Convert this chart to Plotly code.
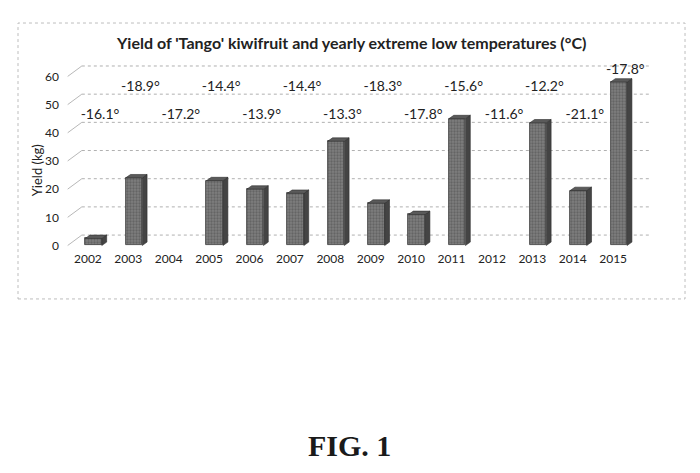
import plotly.graph_objects as go

# datos (None = sin cosecha)
years = ["2002", "2003", "2004", "2005", "2006", "2007", "2008",
         "2009", "2010", "2011", "2012", "2013", "2014", "2015"]
yield_kg = [2.5, 24, None, 23, 20, 18.5, 37, 15, 11, 45, None, 43.5, 19.5, 58]
low_temps = ["-16.1°", "-18.9°", "-17.2°", "-14.4°", "-13.9°", "-14.4°", "-13.3°",
             "-18.3°", "-17.8°", "-15.6°", "-11.6°", "-12.2°", "-21.1°", "-17.8°"]
y_ticks = [0, 10, 20, 30, 40, 50, 60]

FONT = "Lato"
idx = list(range(len(years)))

# geometria del efecto 3D (en unidades de los ejes)
bar_shift = 0.14
bar_w = 0.41
depth_x = 0.12
depth_y = 1.2
wall_y = 3.7

centers = [i + bar_shift for i in idx]

fig = go.Figure()

# caras frontales
fig.add_trace(go.Bar(
    x=centers, y=yield_kg, width=bar_w,
    marker=dict(color="#707070",
                line=dict(color="#3a3a3a", width=0.8),
                pattern=dict(shape=".", fgcolor="#4a4a4a", bgcolor="#7e7e7e",
                             size=3, solidity=0.45)),
    hoverinfo="skip", showlegend=False,
))

# caras laterales y superiores
side_x, side_y, top_x, top_y = [], [], [], []
for c, v in zip(centers, yield_kg):
    if not v:
        continue
    r = c + bar_w / 2
    l = c - bar_w / 2
    side_x += [r, r + depth_x, r + depth_x, r, r, None]
    side_y += [0, depth_y, v + depth_y, v, 0, None]
    top_x += [l, r, r + depth_x, l + depth_x, l, None]
    top_y += [v, v, v + depth_y, v + depth_y, v, None]

fig.add_trace(go.Scatter(x=side_x, y=side_y, mode="lines", fill="toself",
                         fillcolor="#444444", line=dict(color="#2e2e2e", width=0.6),
                         hoverinfo="skip", showlegend=False))
fig.add_trace(go.Scatter(x=top_x, y=top_y, mode="lines", fill="toself",
                         fillcolor="#5a5a5a", line=dict(color="#2e2e2e", width=0.6),
                         hoverinfo="skip", showlegend=False))

# etiquetas de temperatura, en dos filas alternas
lab_y = []
for i, v in zip(idx, yield_kg):
    row = 46 if i % 2 == 0 else 56
    lab_y.append(max(row, (v or 0) + 4))
fig.add_trace(go.Scatter(
    x=[i + 0.3 for i in idx], y=lab_y, mode="text", text=low_temps,
    textfont=dict(family=FONT, size=14, color="#222"),
    hoverinfo="skip", showlegend=False,
))

# lineas de la pared del fondo
for t in y_ticks:
    fig.add_shape(type="line", x0=-0.5, y0=t, x1=-0.15, y1=t + wall_y,
                  line=dict(color="#b8b8b8", width=1), layer="below")
    fig.add_shape(type="line", x0=-0.15, y0=t + wall_y, x1=13.9, y1=t + wall_y,
                  line=dict(color="#b0b0b0", width=1, dash="dot"), layer="below")

# marco del grafico
fig.add_shape(type="rect", xref="paper", yref="paper",
              x0=-0.07, y0=-0.251, x1=1.0417, y1=1.164,
              line=dict(color="#bdbdbd", width=1, dash="dot"))

fig.add_annotation(text="<b>Yield of 'Tango' kiwifruit and yearly extreme low temperatures (°C)</b>",
                   xref="paper", yref="paper", x=0.485, y=1.063, xanchor="center",
                   yanchor="middle", showarrow=False,
                   font=dict(family=FONT, size=16, color="#222"))
fig.add_annotation(text="Yield (kg)", textangle=-90, xref="paper", yref="paper",
                   x=-0.038, y=0.41, xanchor="center", yanchor="middle", showarrow=False,
                   font=dict(family=FONT, size=13, color="#222"))
fig.add_annotation(text="<b>FIG. 1</b>", xref="paper", yref="paper",
                   x=0.483, y=-1.005, xanchor="center", yanchor="middle", showarrow=False,
                   font=dict(family="Liberation Serif", size=30, color="#1a1a1a"))

# la pagina desplaza 8px el grafico, se compensa en los margenes
fig.update_layout(
    width=700, height=473,
    margin=dict(l=52, r=48, t=47, b=231),
    paper_bgcolor="white", plot_bgcolor="white",
    bargap=0,
)
fig.update_xaxes(range=[-0.69, 14.16], tickmode="array", tickvals=idx, ticktext=years,
                 showgrid=False, zeroline=False, showline=False, ticks="",
                 tickfont=dict(family=FONT, size=12, color="#222"))
fig.update_yaxes(range=[-1.6, 67.6], tickmode="array", tickvals=y_ticks,
                 showgrid=False, zeroline=False, showline=False, ticks="",
                 tickfont=dict(family=FONT, size=12, color="#222"))

fig.write_html("out.html")
